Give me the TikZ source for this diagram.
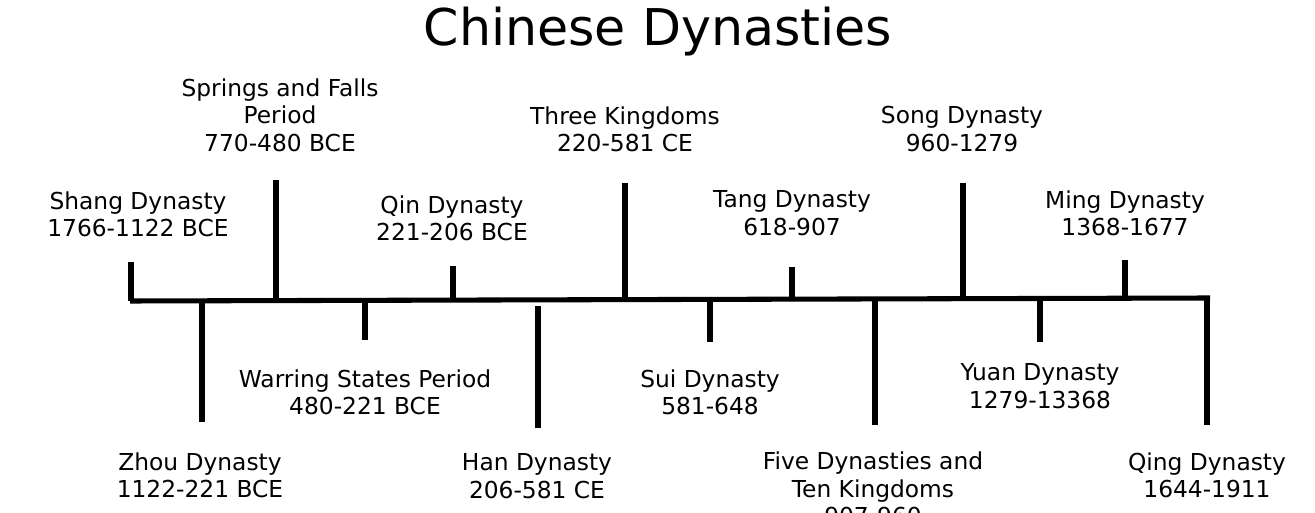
\documentclass[tikz,border=0pt]{standalone}
\usepackage{fontspec}
\setmainfont{DejaVu Sans}
\begin{document}
\begin{tikzpicture}[x=0.75pt,y=-0.75pt,
  bar/.style={line width=3.8pt},
  lbl/.style={align=center,font=\fontsize{17.5}{20.5}\selectfont,inner sep=0pt}]
\clip (0,0) rectangle (1315,513);
\useasboundingbox (0,0) rectangle (1315,513);
\fill[white] (0,0) rectangle (1315,513);
\node[font=\fontsize{38}{42}\selectfont] (title) at (658,32) {Chinese Dynasties};
\coordinate (L) at (130,301); \coordinate (R) at (1210,298);
\draw[bar] (L) -- (R);
\foreach \n/\x/\ya/\yb in {shang/131/262/301, zhou/202/301/422, spring/276/180/301,
  warring/365/301/340, qin/453/266/301, han/538/306/428, three/625/183/300,
  sui/710/300/342, tang/792/267/300, five/875/300/425, song/963/183/299,
  yuan/1040/299/342, ming/1125/260/298, qing/1207/299/425}
  {\coordinate (\n a) at (\x,\ya); \coordinate (\n b) at (\x,\yb); \draw[bar] (\n a) -- (\n b);}
\node[lbl] (shangT) at (138,214) {Shang Dynasty\\1766-1122 BCE};
\node[lbl] (springT) at (280,115) {Springs and Falls\\Period\\770-480 BCE};
\node[lbl] (qinT) at (452,218) {Qin Dynasty\\221-206 BCE};
\node[lbl] (threeT) at (625,129) {Three Kingdoms\\220-581 CE};
\node[lbl] (tangT) at (792,213) {Tang Dynasty\\618-907};
\node[lbl] (songT) at (962,129) {Song Dynasty\\960-1279};
\node[lbl] (mingT) at (1125,213) {Ming Dynasty\\1368-1677};
\node[lbl] (warT) at (365,392) {Warring States Period\\480-221 BCE};
\node[lbl] (zhouT) at (200,475) {Zhou Dynasty\\1122-221 BCE};
\node[lbl] (hanT) at (537,476) {Han Dynasty\\206-581 CE};
\node[lbl] (suiT) at (710,392) {Sui Dynasty\\581-648};
\node[lbl,anchor=north] (fiveT) at (873,452) {Five Dynasties and\\Ten Kingdoms\\907-960};
\node[lbl] (yuanT) at (1040,386) {Yuan Dynasty\\1279-13368};
\node[lbl] (qingT) at (1207,475) {Qing Dynasty\\1644-1911};
\end{tikzpicture}
\end{document}
